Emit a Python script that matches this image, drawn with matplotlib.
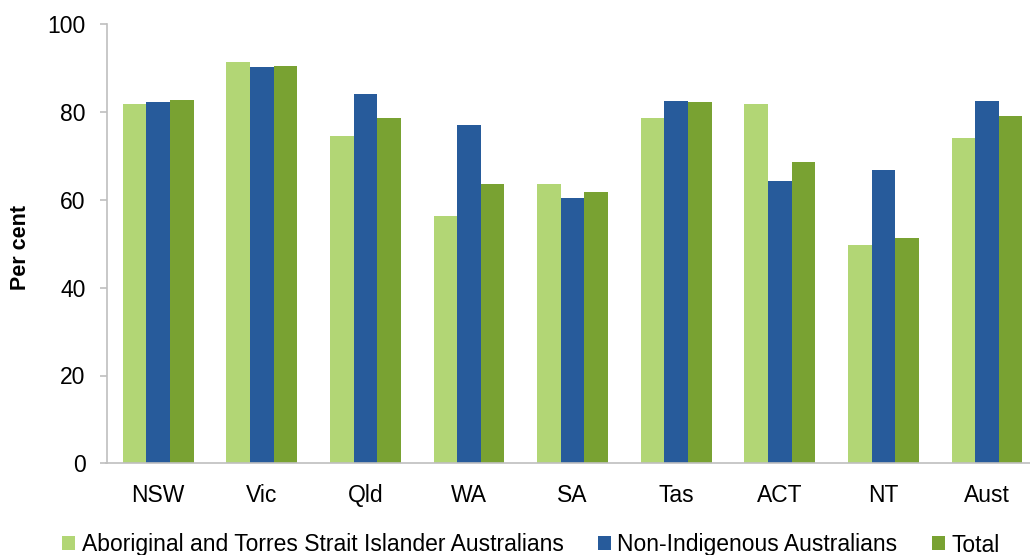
import matplotlib
matplotlib.use("Agg")
import matplotlib.pyplot as plt
import numpy as np
from matplotlib.patches import Patch

plt.rcParams['font.family'] = ['Liberation Sans', 'DejaVu Sans']

# Jurisdictions and per cent values for each population group
states = ["NSW", "Vic", "Qld", "WA", "SA", "Tas", "ACT", "NT", "Aust"]
indigenous = [81.8, 91.3, 74.6, 56.3, 63.6, 78.6, 81.8, 49.8, 74.2]
non_indigenous = [82.2, 90.3, 84.1, 77.1, 60.4, 82.5, 64.4, 66.9, 82.5]
total = [82.7, 90.6, 78.6, 63.6, 61.8, 82.2, 68.7, 51.3, 79.0]

series_names = ["Aboriginal and Torres Strait Islander Australians",
                "Non-Indigenous Australians", "Total"]
colors = ["#B2D675", "#275B9B", "#79A232"]
y_ticks = [0, 20, 40, 60, 80, 100]

fig = plt.figure(figsize=(10.30, 5.55), dpi=100)
ax = fig.add_axes([106.5 / 1030, 1 - 463.3 / 555, 932.3 / 1030, 439.0 / 555])

x = np.arange(len(states))
w = 0.228
for i, (vals, c) in enumerate(zip([indigenous, non_indigenous, total], colors)):
    ax.bar(x + (i - 1) * w, vals, width=w, color=c, edgecolor="none", zorder=2)

ax.set_xlim(-0.5, len(states) - 0.5)
ax.set_ylim(0, 100)
ax.set_yticks(y_ticks)
ax.set_xticks(x)
ax.set_xticklabels(states)

for side in ["top", "right"]:
    ax.spines[side].set_visible(False)
for side in ["left", "bottom"]:
    ax.spines[side].set_color("#BFBFBF")
    ax.spines[side].set_linewidth(1.2)

ax.tick_params(axis="y", length=5, width=1.2, color="#BFBFBF", pad=10,
               labelsize=16.5, labelcolor="black")
ax.tick_params(axis="x", length=0, pad=15, labelsize=16.5, labelcolor="black")

fig.text(20 / 1030, 1 - 247 / 555, "Per cent", rotation=90, ha="center",
         va="center", fontsize=15.5, fontweight="bold")

handles = [Patch(facecolor=c, edgecolor="none") for c in colors]
fig.legend(handles, series_names, loc="center", ncol=3,
           bbox_to_anchor=(531 / 1030, 1 - 545 / 555), frameon=False,
           fontsize=16.5, handlelength=0.55, handleheight=0.55,
           handletextpad=0.3, columnspacing=1.5, borderpad=0, borderaxespad=0)

fig.savefig("out.png", dpi=100)
